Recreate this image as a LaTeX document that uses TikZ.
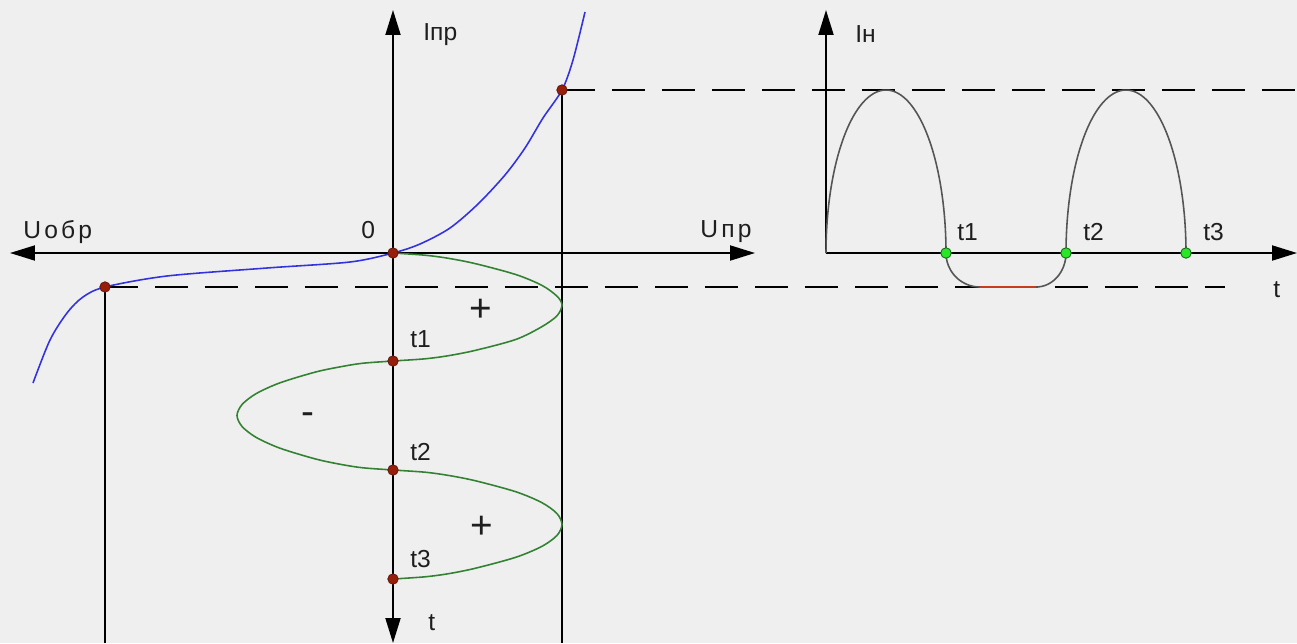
\documentclass[tikz,border=0pt]{standalone}
\usepackage{fontspec}
\setmainfont{Liberation Sans}
\usetikzlibrary{arrows.meta}
\definecolor{bg}{RGB}{239,239,239}
\definecolor{dotred}{RGB}{150,30,10}
\definecolor{dotdark}{RGB}{90,20,10}
\definecolor{blueline}{RGB}{50,50,225}
\definecolor{greenline}{RGB}{50,130,50}
\definecolor{grayline}{RGB}{85,85,85}
\definecolor{redline}{RGB}{200,60,30}
\definecolor{gdotfill}{RGB}{40,230,40}
\definecolor{gdotdraw}{RGB}{20,110,20}
\definecolor{txt}{RGB}{30,30,30}
\begin{document}
\begin{tikzpicture}[x=0.02cm,y=-0.02cm,
  axis/.style={line width=1.1pt,-{Triangle[length=0.5cm,width=0.3cm]}},
  guide/.style={line width=1.1pt},
  dashline/.style={line width=1.1pt,dash pattern=on 0.66cm off 0.34cm},
  lbl/.style={font=\fontsize{14}{16}\selectfont,text=txt,inner sep=0pt,anchor=base west},
  wide/.style={font=\fontsize{14}{16}\selectfont\addfontfeature{LetterSpace=13}},
  sign/.style={font=\fontsize{22}{24}\selectfont,text=txt,inner sep=0pt},
  rdot/.style={circle,fill=dotred,draw=dotdark,line width=0.4pt,inner sep=0pt,minimum size=0.21cm},
  gdot/.style={circle,fill=gdotfill,draw=gdotdraw,line width=0.5pt,inner sep=0pt,minimum size=0.21cm}]
\useasboundingbox (0,0) rectangle (1297,643);
\fill[bg] (0,0) rectangle (1297,643);
% key coordinates
\coordinate (O) at (393,253);
\coordinate (Lend) at (10,253);
\coordinate (Rend) at (755,253);
\coordinate (Top) at (393,10);
\coordinate (Bot) at (393,643);
\coordinate (A) at (105,287);
\coordinate (B) at (562,90);
\coordinate (Abot) at (105,643);
\coordinate (Bbot) at (562,643);
\coordinate (Dend) at (1225,287);
\coordinate (Uend) at (1297,90);
\coordinate (T1) at (393,361);
\coordinate (T2) at (393,470);
\coordinate (T3) at (393,579);
\coordinate (RO) at (826,253);
\coordinate (RTop) at (826,10);
\coordinate (REnd) at (1297,253);
\coordinate (R1) at (946,253);
\coordinate (R2) at (1066,253);
\coordinate (R3) at (1186,253);
% guides
\draw[guide] (A) -- (Abot);
\draw[guide] (B) -- (Bbot);
\draw[dashline] (A) -- (Dend);
\draw[dashline] (B) -- (Uend);
% axes
\draw[axis] (O) -- (Lend);
\draw[axis] (O) -- (Rend);
\draw[axis] (O) -- (Top);
\draw[axis] (O) -- (Bot);
\draw[axis] (RO) -- (RTop);
\draw[axis] (RO) -- (REnd);
% blue characteristic
\draw[blueline,line width=0.9pt] plot[smooth,tension=0.5] coordinates
  {(33,383) (50,340) (67,313) (83,297) (105,287) (167,276) (267,268) (350,262) (393,253)
   (420,244) (450,228) (478,204) (505,175) (525,148) (543,118) (562,90) (573,60) (585,12)};
% green input voltage
\draw[greenline,line width=0.9pt] plot[smooth,tension=0.5] coordinates
  {(393,253) (425,255.2) (449,258.4) (476,263.8) (516,274.6) (542,285.4) (557,296.2) (562,305)
   (557,315.8) (542,326.6) (516,339.4) (476,350.2) (449,355.6) (425,358.8) (393,361)
   (363,363.2) (342,366.5) (316,371.9) (280,382.8) (256,393.7) (242,404.6) (237,415.5)
   (242,426.4) (256,437.3) (280,448.2) (316,459.1) (342,464.6) (363,467.8) (393,470)
   (425,472.2) (449,475.5) (476,480.9) (516,491.8) (542,502.7) (557,513.6) (562,524.5)
   (557,535.4) (542,546.3) (516,557.2) (476,568.1) (449,573.6) (425,576.8) (393,579)};
% right graph curve
\draw[grayline,line width=0.9pt] (RO)
  -- plot[domain=180:0,samples=80] ({886+60*cos(\x)},{253-163*sin(\x)})
  -- plot[domain=180:270,samples=30] ({980+34*cos(\x)},{253-34*sin(\x)});
\draw[redline,line width=0.9pt] (980,287) -- (1036,287);
\draw[grayline,line width=0.9pt] plot[domain=270:360,samples=30] ({1036+30*cos(\x)},{253-34*sin(\x)})
  -- plot[domain=180:0,samples=80] ({1126+60*cos(\x)},{253-163*sin(\x)});
% dots
\node[rdot] at (O) {};
\node[rdot] at (A) {};
\node[rdot] at (B) {};
\node[rdot] at (T1) {};
\node[rdot] at (T2) {};
\node[rdot] at (T3) {};
\node[gdot] at (R1) {};
\node[gdot] at (R2) {};
\node[gdot] at (R3) {};
% labels
\node[lbl,wide] (lUobr) at (23,238) {Uобр};
\node[lbl] (lzero) at (361,238) {0};
\node[lbl,wide] (lUpr) at (700,237) {Uпр};
\node[lbl] (lIpr) at (423,40) {Iпр};
\node[lbl] (lt1) at (410,347) {t1};
\node[lbl] (lt2) at (410,460) {t2};
\node[lbl] (lt3) at (410,567) {t3};
\node[lbl] (lt) at (428,630) {t};
\node[sign] (p1) at (481,310) {+};
\node[sign] (m1) at (308,419) {-};
\node[sign] (p2) at (482,527) {+};
\node[lbl] (lIn) at (855,42) {Iн};
\node[lbl] (rt1) at (957,240) {t1};
\node[lbl] (rt2) at (1083,240) {t2};
\node[lbl] (rt3) at (1203,240) {t3};
\node[lbl] (rt) at (1273,297) {t};
\end{tikzpicture}
\end{document}
